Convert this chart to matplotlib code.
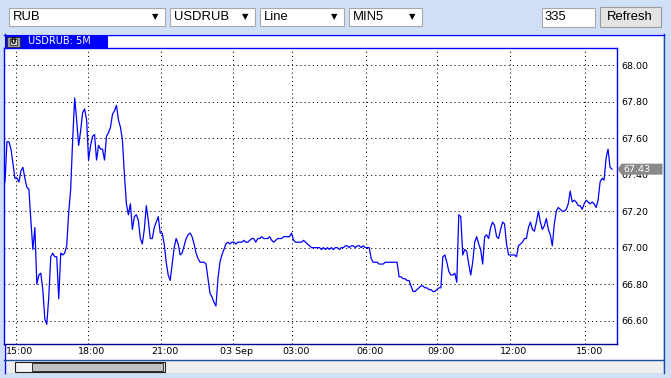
import matplotlib
matplotlib.use("Agg")
import matplotlib.pyplot as plt
from matplotlib.patches import Rectangle, Polygon
from matplotlib.transforms import ScaledTranslation

# toolbar / header texts
currency = "RUB"
symbol = "USDRUB"
chart_type = "Line"
period = "MIN5"
bar_count = "335"
header = "USDRUB: 5M"

# USDRUB close, one value per 5-minute bar
prices = [
    67.36, 67.58, 67.58, 67.54, 67.46, 67.38, 67.38, 67.36, 67.42, 67.44,
    67.38, 67.33, 67.32, 67.15, 66.99, 67.11, 66.80, 66.85, 66.86, 66.77,
    66.61, 66.58, 66.73, 66.95, 66.97, 66.95, 66.95, 66.72, 66.97, 66.96,
    66.97, 67.01, 67.19, 67.32, 67.59, 67.82, 67.70, 67.56, 67.64, 67.74,
    67.76, 67.70, 67.48, 67.56, 67.61, 67.62, 67.48, 67.56, 67.54, 67.54,
    67.48, 67.61, 67.63, 67.66, 67.73, 67.75, 67.78, 67.70, 67.66, 67.59,
    67.40, 67.24, 67.18, 67.24, 67.10, 67.17, 67.18, 67.15, 67.05, 67.02,
    67.10, 67.23, 67.15, 67.05, 67.05, 67.11, 67.14, 67.17, 67.08, 67.08,
    67.02, 66.92, 66.85, 66.82, 66.91, 67.00, 67.05, 67.02, 66.96, 66.97,
    67.01, 67.05, 67.07, 67.08, 67.06, 67.02, 66.97, 66.94, 66.92, 66.92,
    66.92, 66.91, 66.83, 66.75, 66.73, 66.70, 66.68, 66.83, 66.92, 66.96,
    66.99, 67.02, 67.03, 67.02, 67.03, 67.03, 67.02, 67.03, 67.03, 67.03,
    67.04, 67.03, 67.03, 67.04, 67.05, 67.05, 67.03, 67.05, 67.05, 67.06,
    67.05, 67.05, 67.05, 67.06, 67.04, 67.03, 67.04, 67.05, 67.05, 67.05,
    67.06, 67.06, 67.06, 67.06, 67.08, 67.04, 67.03, 67.03, 67.03, 67.03,
    67.04, 67.03, 67.02, 67.01, 67.00, 67.00, 67.00, 67.00, 67.00, 66.99,
    67.00, 66.99, 67.00, 66.99, 67.00, 66.99, 67.00, 67.00, 66.99, 67.00,
    67.00, 67.01, 67.01, 67.00, 67.01, 67.01, 67.00, 67.01, 67.01, 67.00,
    67.01, 67.00, 67.00, 67.00, 66.94, 66.92, 66.92, 66.92, 66.91, 66.91,
    66.91, 66.92, 66.92, 66.92, 66.92, 66.92, 66.92, 66.92, 66.84, 66.84,
    66.83, 66.83, 66.82, 66.82, 66.79, 66.76, 66.76, 66.77, 66.78, 66.79,
    66.79, 66.78, 66.78, 66.77, 66.77, 66.76, 66.76, 66.77, 66.78, 66.78,
    66.95, 66.96, 66.92, 66.87, 66.85, 66.85, 66.86, 66.81, 67.18, 67.17,
    66.96, 66.99, 66.98, 66.91, 66.85, 66.92, 67.03, 67.06, 67.02, 66.99,
    66.91, 67.06, 67.07, 67.05, 67.11, 67.14, 67.12, 67.06, 67.05, 67.10,
    67.14, 67.13, 67.02, 66.96, 66.96, 66.96, 66.96, 66.95, 67.01, 67.02,
    67.03, 67.05, 67.05, 67.11, 67.14, 67.10, 67.09, 67.14, 67.20, 67.14,
    67.10, 67.12, 67.16, 67.10, 67.07, 67.01, 67.13, 67.20, 67.22, 67.21,
    67.20, 67.20, 67.21, 67.24, 67.31, 67.25, 67.26, 67.25, 67.23, 67.23,
    67.21, 67.24, 67.26, 67.25, 67.24, 67.25, 67.24, 67.22, 67.26, 67.36,
    67.38, 67.37, 67.49, 67.54, 67.44, 67.43,
]

# time axis labels, placed at their bar index
tick_bars = [5.5, 41.5, 78.5, 114.5, 144, 181.5, 217, 253.5, 291.5]
tick_labels = ["15:00", "18:00", "21:00", "03 Sep", "03:00", "06:00", "09:00", "12:00", "15:00"]
price_ticks = [66.6, 66.8, 67.0, 67.2, 67.4, 67.6, 67.8, 68.0]

W, H = 671, 378
BLUE = "#0000ff"
UI_FONT = ["Liberation Sans", "DejaVu Sans"]

fig = plt.figure(figsize=(W / 100, H / 100), dpi=100)
fig.patch.set_facecolor("#cfe0f6")

# background axes in pixel coordinates for the window chrome
bg = fig.add_axes([0, 0, 1, 1], zorder=0)
bg.set_xlim(0, W)
bg.set_ylim(H, 0)
bg.axis("off")


def box(ax, x0, y0, x1, y1, fc, ec, lw=1.0):
    ax.add_patch(Rectangle((x0, y0), x1 - x0, y1 - y0, facecolor=fc,
                           edgecolor=ec, linewidth=lw))


# toolbar
for x0, x1, txt in [(8, 164, currency), (169, 254, symbol), (259, 343, chart_type), (348, 421, period)]:
    box(bg, x0 + 0.5, 7.5, x1 + 0.5, 25.5, "white", "#a8a8a8", 0.8)
    bg.text(x0 + 5, 16.8, txt, fontsize=9.4, family=UI_FONT, va="center", ha="left")
    bg.text(x1 - 9, 16.5, "\u25bc", fontsize=6, family="DejaVu Sans", va="center", ha="center")
box(bg, 541.5, 7.5, 594.5, 26.5, "white", "#a8a8a8", 0.8)
bg.text(544, 17, bar_count, fontsize=9.4, family=UI_FONT, va="center", ha="left")
box(bg, 599.5, 6.5, 660.5, 27, "#e4e4e4", "#9a9a9a", 0.8)
bg.text(630, 16.8, "Refresh", fontsize=9.4, family=UI_FONT, va="center", ha="center")

# chart panel
box(bg, 4, 34, 663, 359.5, "white", "none")
box(bg, 4, 359.5, 663, 373, "#eeeeee", "none")
bg.plot([4.5, 4.5], [34, 373], color=BLUE, lw=1.0)
bg.plot([663.5, 663.5], [34, 373], color="#1c4fa0", lw=1.0)
bg.plot([4, 664], [34.5, 34.5], color=BLUE, lw=1.0)
bg.plot([4, 664], [359.5, 359.5], color="#1c4fa0", lw=1.0)

# header tab
box(bg, 5, 35, 108, 48, BLUE, "none")
box(bg, 6.5, 36.5, 19.5, 46.5, "#9c9c9c", "#303030", 0.7)
box(bg, 9.5, 38.5, 16.5, 44.5, "#d8d8d8", "#303030", 0.6)
bg.text(13, 41.7, "0", fontsize=5.5, va="center", ha="center", fontweight="bold")
bg.text(28, 41.5, header, fontsize=7, color="white", va="center", ha="left")

# scroll bar
box(bg, 14.5, 361.5, 164.5, 372, "#f4f4f4", "#202020", 0.8)
box(bg, 32, 363, 162.5, 370.5, "#c0c0c0", "#303030", 0.7)

# price chart
ax = fig.add_axes([4 / W, (H - 344) / H, 613 / W, 296 / H], zorder=1)
ax.set_facecolor("white")
ax.plot(range(len(prices)), prices, color=BLUE, lw=0.9)
ax.set_xlim(-0.5, 307.5)
ax.set_ylim(66.472, 68.094)
ax.set_xticks(tick_bars, tick_labels)
ax.set_yticks(price_ticks, [f"{v:.2f}" for v in price_ticks])
ax.yaxis.tick_right()
ax.grid(True, color="black", linestyle=(0, (1, 3)), linewidth=0.75)
ax.tick_params(axis="x", length=0, labelsize=6.8, pad=2.5)
ax.tick_params(axis="y", length=0, labelsize=6.8, pad=3.4)
for lbl in ax.get_xticklabels():
    lbl.set_transform(lbl.get_transform() + ScaledTranslation(4 / 100, 0, fig.dpi_scale_trans))
for side in ["top", "right", "left"]:
    ax.spines[side].set_color(BLUE)
ax.spines["bottom"].set_color("#00008b")
for sp in ax.spines.values():
    sp.set_linewidth(1.0)

# last price tag on top
fg = fig.add_axes([0, 0, 1, 1], zorder=3)
fg.set_xlim(0, W)
fg.set_ylim(H, 0)
fg.axis("off")
fig.canvas.draw()
ty = H - ax.transData.transform((0, prices[-1]))[1]
fg.add_patch(Polygon([(617.5, ty), (621.5, ty - 5.5), (662.5, ty - 5.5), (662.5, ty + 5.5), (621.5, ty + 5.5)],
                     closed=True, facecolor="#8a8a8a", edgecolor="none"))
fg.text(623, ty + 0.3, f"{prices[-1]:.2f}", fontsize=6.8, color="white", va="center", ha="left")

fig.savefig("out.png", dpi=100, facecolor=fig.get_facecolor())
